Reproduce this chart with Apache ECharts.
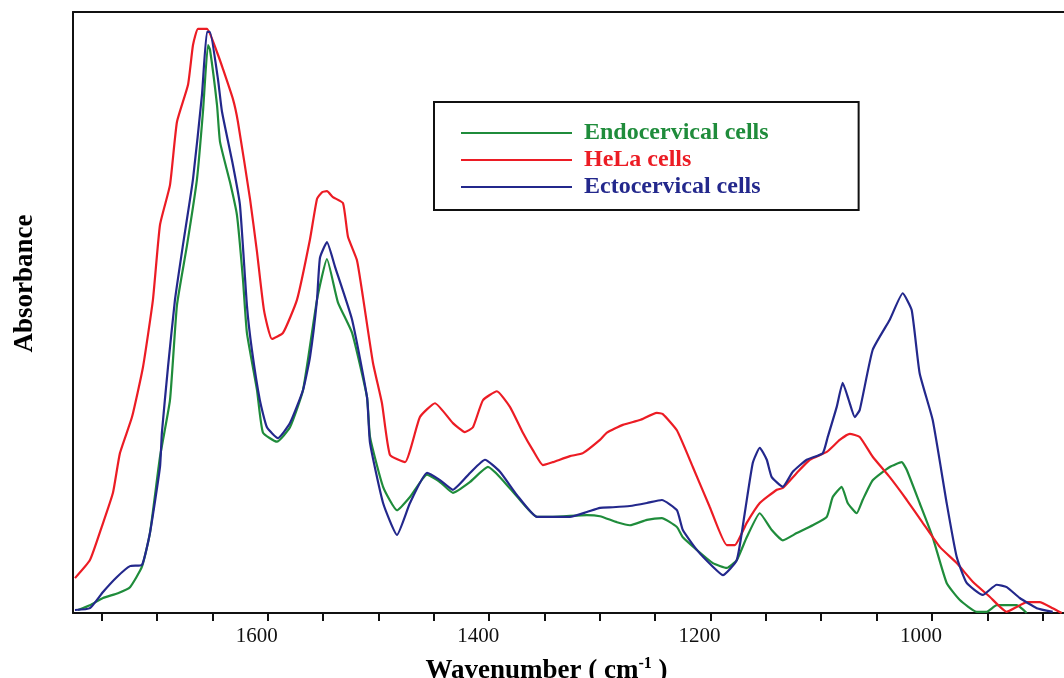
<!DOCTYPE html>
<html>
<head>
<meta charset="utf-8">
<script src="https://cdn.jsdelivr.net/npm/echarts@6/dist/echarts.min.js"></script>
<style>html,body{margin:0;padding:0;background:#fff}#c{width:1064px;height:678px}</style>
</head>
<body>
<div id="c"></div>
<script>
// ---- data (wavenumber in cm-1, absorbance in arbitrary units 0-100) ----
const seriesNames = ['Endocervical cells', 'HeLa cells', 'Ectocervical cells'];
const xLabelValues = [1000, 1200, 1400, 1600];
const xTickValues = [900, 950, 1000, 1050, 1100, 1150, 1200, 1250, 1300, 1350, 1400, 1450, 1500, 1550, 1600, 1650, 1700, 1750];

const endoWn = [1771.4,1760.6,1748.8,1735.3,1724.4,1713.6,1706.4,1697.3,1688.3,1682.0,1672.9,1663.9,1658.5,1654.0,1652.2,1645.8,1643.1,1634.1,1627.8,1622.4,1618.8,1609.7,1604.3,1591.7,1579.9,1568.1,1555.5,1546.5,1536.6,1523.8,1510.3,1507.6,1495.8,1483.2,1471.5,1456.1,1444.4,1432.7,1417.3,1401.1,1390.2,1372.1,1356.8,1342.4,1311.7,1299.9,1284.5,1272.9,1257.5,1244.0,1230.4,1225.0,1212.4,1197.9,1185.3,1176.3,1167.3,1155.5,1144.7,1134.7,1122.1,1107.7,1095.0,1089.6,1081.5,1076.1,1068.0,1062.6,1053.5,1038.1,1027.3,1022.7,1011.1,999.3,986.7,975.0,959.6,950.6,941.5,923.4,914.4];
const endoAbs = [0.5,1.3,2.5,3.3,4.3,7.7,13.3,26.0,35.4,51.2,61.2,72.2,83.4,94.5,93.8,84.5,78.4,71.7,66.2,55.6,46.6,37.1,30.0,28.5,30.9,37.1,52.1,58.9,51.7,46.6,35.9,29.3,21.0,17.1,19.3,23.0,21.8,20.0,21.8,24.3,22.6,18.8,16.0,16.0,16.3,16.1,15.1,14.6,15.5,15.8,14.3,12.6,10.5,8.3,7.5,8.8,12.6,16.6,13.8,12.1,13.3,14.6,16.0,19.3,21.0,18.3,16.6,18.8,22.1,24.3,25.1,23.8,18.3,12.6,5.0,2.2,0.2,0.2,1.3,1.3,0];

const helaWn = [1774.1,1760.6,1750,1739.8,1733.5,1722.6,1712.7,1703.7,1697.3,1688.3,1682.0,1672.0,1667.5,1663.0,1654.9,1645.8,1640.4,1631.4,1626.9,1616.0,1609.7,1603.4,1596.2,1586.2,1573.6,1561.8,1555.5,1551.0,1546.5,1541.1,1532.0,1527.5,1519.4,1514.0,1504.9,1496.8,1489.6,1476.0,1462.5,1448.9,1432.7,1421.9,1414.6,1405.6,1393.0,1381.2,1369.5,1360.5,1351.4,1342.4,1327.0,1315.3,1299.9,1293.6,1279.2,1263.8,1248.5,1243.1,1230.4,1216.0,1200.6,1185.3,1178.1,1167.3,1155.5,1140.1,1134.7,1122.1,1110.3,1095.0,1083.3,1074.2,1065.2,1053.5,1038.1,1022.7,1008.3,992.9,977.6,963.1,947.8,932.4,923.4,914.4,902.7,890.9,882.8];
const helaAbs = [5.8,8.8,14.3,20.0,26.6,32.6,40.9,52.1,64.6,71.2,81.7,87.9,94.5,97.2,97.2,93.3,90.5,85.5,81.7,68.9,60.1,50.4,45.6,46.6,52.1,62.2,68.9,70.0,70.2,69.2,68.2,62.6,58.7,52.6,41.6,34.9,26.3,25.1,32.6,34.9,31.6,30.1,30.9,35.4,36.9,34.3,30.0,27.1,24.6,25.1,26.1,26.6,28.8,30.0,31.3,32.1,33.3,33.1,30.4,24.3,17.6,11.3,11.3,15.0,18.3,20.5,20.8,23.3,25.5,26.8,28.8,29.8,29.3,26.0,22.6,18.8,15.0,11.0,8.3,5.2,2.7,0.2,1.0,1.8,1.8,0.8,0];

const ectoWn = [1774.1,1760.6,1748.8,1736.2,1724.4,1713.6,1706.4,1697.3,1695.6,1690.1,1683.8,1676.6,1667.5,1659.4,1654.9,1652.2,1645.0,1641.3,1631.4,1625.1,1618.8,1614.3,1607.1,1600.7,1590.8,1579.9,1568.1,1561.8,1555.5,1552.8,1546.5,1539.2,1523.8,1510.3,1507.6,1495.8,1483.2,1471.5,1456.1,1444.4,1432.7,1417.3,1403.8,1390.2,1374.8,1356.8,1342.4,1327.0,1311.7,1299.9,1288.2,1272.9,1257.5,1244.0,1230.4,1225.0,1212.4,1197.9,1188.9,1176.3,1169.1,1161.8,1155.5,1149.2,1144.7,1134.7,1125.7,1113.1,1098.6,1094.1,1086.0,1080.6,1075.1,1069.7,1065.2,1053.5,1038.1,1026.4,1018.3,1011.1,999.3,986.7,977.6,968.6,954.1,941.5,932.4,920.7,905.3,890.9];
const ectoAbs = [0.5,0.8,3.5,6.0,7.8,8.0,13.3,24.3,30.0,40.9,52.1,61.2,72.2,86.2,96.7,96.7,88.9,83.4,74.5,67.9,51.2,43.8,35.4,30.9,29.1,31.6,37.1,42.6,52.1,59.1,61.7,57.6,48.8,35.9,28.3,18.3,13.0,18.3,23.3,22.1,20.5,23.3,25.5,23.5,19.6,16.0,16.0,16.0,16.8,17.5,17.6,17.8,18.3,18.8,17.1,13.8,10.5,7.7,6.3,8.8,16.6,25.0,27.5,25.5,22.6,21.0,23.5,25.5,26.6,29.3,34.3,38.3,35.4,32.6,33.8,43.8,48.8,53.2,50.4,39.9,32.1,18.3,9.3,5.0,3.0,4.7,4.3,2.5,0.8,0.2];

const colors = ['#1f8c3b', '#ec1c24', '#23288c'];

function pairs(xs, ys) { return xs.map((x, i) => [x, ys[i]]); }

const serif = '"Liberation Serif", "Times New Roman", serif';
const chart = echarts.init(document.getElementById('c'), null, { renderer: 'canvas' });

const xCommon = { type: 'value', min: 880.7, max: 1775.9, inverse: true };

function lineSeries(i, wn, ab) {
  return {
    name: seriesNames[i], type: 'line', xAxisIndex: 0,
    data: pairs(wn, ab), showSymbol: false, smooth: 0.15,
    color: colors[i], lineStyle: { width: 2.2, color: colors[i] }
  };
}

chart.setOption({
  animation: false,
  backgroundColor: '#ffffff',
  grid: { left: 73, top: 12, right: 0, bottom: 65, containLabel: false, outerBoundsMode: 'none' },
  legend: {
    orient: 'vertical',
    left: 434, top: 102,
    padding: [19, 90, 11, 27],
    borderColor: '#111', borderWidth: 2,
    icon: 'rect', itemWidth: 111, itemHeight: 2, itemGap: 3,
    selectedMode: false,
    textStyle: { fontFamily: serif, fontWeight: 'bold', fontSize: 24, lineHeight: 8, padding: [0, 0, 16, 7] },
    data: seriesNames.map((n, i) => ({ name: n, textStyle: { color: colors[i] } }))
  },
  xAxis: [
    Object.assign({}, xCommon, {
      position: 'bottom',
      name: '{a|Wavenumber ( cm}{s|-1}{a| )}',
      nameLocation: 'middle', nameGap: 43,
      nameTextStyle: {
        padding: [0, 44, 0, 0],
        rich: {
          a: { fontFamily: serif, fontWeight: 'bold', fontSize: 27, color: '#000', lineHeight: 30 },
          s: { fontFamily: serif, fontWeight: 'bold', fontSize: 16, color: '#000', verticalAlign: 'top', lineHeight: 16 }
        }
      },
      axisLine: { show: true, lineStyle: { color: '#111', width: 2 } },
      axisTick: { show: true, length: 8, inside: false, customValues: xTickValues, lineStyle: { color: '#111', width: 2 } },
      axisLabel: {
        show: true, customValues: xLabelValues, margin: 13,
        fontFamily: serif, fontSize: 21, color: '#111', padding: [0, 22, 0, 0],
        formatter: v => String(v)
      },
      splitLine: { show: false }
    }),
    Object.assign({}, xCommon, {
      position: 'top',
      axisLine: { show: true, onZero: false, lineStyle: { color: '#111', width: 2 } },
      axisTick: { show: false }, axisLabel: { show: false }, splitLine: { show: false }
    })
  ],
  yAxis: {
    type: 'value', min: 0, max: 100,
    name: 'Absorbance', nameLocation: 'middle', nameGap: 34,
    nameTextStyle: { fontFamily: serif, fontWeight: 'bold', fontSize: 27, color: '#000', padding: [0, 0, 0, 58] },
    axisLine: { show: true, lineStyle: { color: '#111', width: 2 } },
    axisTick: { show: false }, axisLabel: { show: false }, splitLine: { show: false }
  },
  series: [
    lineSeries(0, endoWn, endoAbs),
    lineSeries(1, helaWn, helaAbs),
    lineSeries(2, ectoWn, ectoAbs)
  ]
});
</script>
</body>
</html>
